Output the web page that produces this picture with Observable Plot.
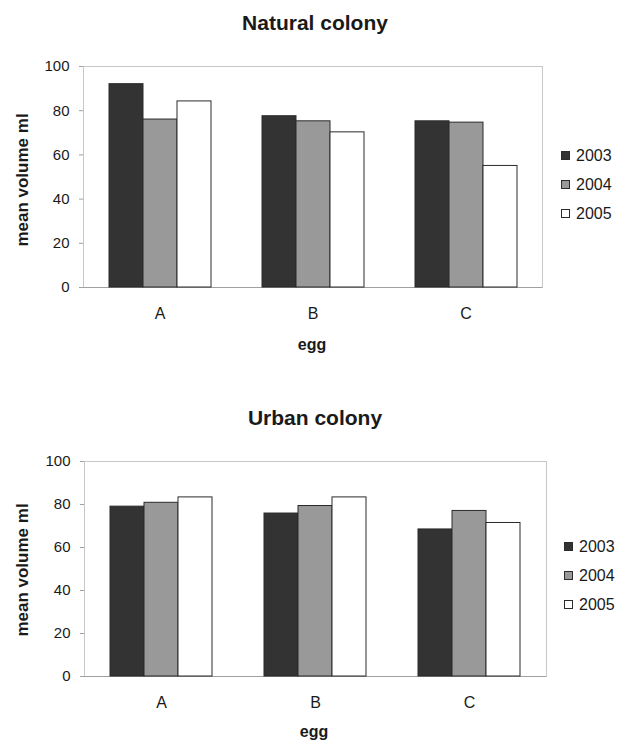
<!DOCTYPE html>
<html>
<head>
<meta charset="utf-8">
<script src="https://cdn.jsdelivr.net/npm/d3@7"></script>
<script src="https://cdn.jsdelivr.net/npm/@observablehq/plot@0.6"></script>
<style>
  html, body { margin: 0; padding: 0; background: #fff; }
  body { width: 630px; height: 744px; position: relative; overflow: hidden; font-family: "Liberation Sans", Arial, sans-serif; color: #1a1a1a; }
  .panel { position: absolute; left: 0; width: 630px; }
  .panel svg { display: block; }
  .title { position: absolute; left: 0; width: 630px; text-align: center; font-weight: bold; font-size: 21px; line-height: 21px; }
  .xlab { position: absolute; text-align: center; font-weight: bold; font-size: 16px; line-height: 16px; width: 200px; }
  .ylab { position: absolute; width: 200px; text-align: center; font-weight: bold; font-size: 17px; line-height: 17px; transform: translate(-50%, -50%) rotate(-90deg); }
  .legend { position: absolute; font-size: 16px; line-height: 16px; }
  .legend .row { display: flex; align-items: center; height: 29px; }
  .legend .sw { width: 7px; height: 7px; border: 1px solid #2b2b2b; margin-right: 6px; }
</style>
</head>
<body>
<script>
const eggs = ["A", "B", "C"];
const years = ["2003", "2004", "2005"];
const naturalTitle = "Natural colony";
const urbanTitle = "Urban colony";
const natural2003 = [92, 77.5, 75.2];
const natural2004 = [76, 75.2, 74.6];
const natural2005 = [84.2, 70.2, 55];
const urban2003 = [79, 75.8, 68.4];
const urban2004 = [80.8, 79.3, 77];
const urban2005 = [83.3, 83.3, 71.4];
const yTicks = [0, 20, 40, 60, 80, 100];
const yLabel = "mean volume ml";
const xLabel = "egg";
const yearColors = ["#333333", "#999999", "#ffffff"];

function rows(s03, s04, s05) {
  const out = [];
  eggs.forEach((e, i) => {
    out.push({egg: e, year: "2003", value: s03[i]});
    out.push({egg: e, year: "2004", value: s04[i]});
    out.push({egg: e, year: "2005", value: s05[i]});
  });
  return out;
}

function chart(data, opts) {
  return Plot.plot({
    width: 630,
    height: opts.height,
    marginLeft: 83,
    marginRight: opts.marginRight,
    marginTop: opts.marginTop,
    marginBottom: opts.marginBottom,
    style: {fontFamily: "Liberation Sans, Arial, sans-serif", fontSize: "15px", color: "#1a1a1a", background: "#fff"},
    fx: {domain: eggs, padding: 0, label: null},
    x: {domain: years, paddingInner: 0, paddingOuter: 0.75, axis: null},
    y: {domain: [0, 100], axis: null},
    color: {domain: years, range: yearColors},
    marks: [
      Plot.frame({facet: "super", stroke: "#c8c8c8"}),
      Plot.ruleY([0], {stroke: "#a0a0a0"}),
      Plot.barY(data, {fx: "egg", x: "year", y: "value", fill: "year", stroke: "#2b2b2b", strokeWidth: 1}),
      Plot.axisY({ticks: yTicks, tickSize: 4, tickPadding: 10, stroke: "#a0a0a0", fill: "#1a1a1a", fontSize: 15, label: null}),
      Plot.axisFx({anchor: "bottom", tickSize: 0, tickPadding: 20, fontSize: 16, label: null, fill: "#1a1a1a"})
    ]
  });
}

function legend(top, left) {
  const div = document.createElement("div");
  div.className = "legend";
  div.style.top = top + "px";
  div.style.left = left + "px";
  years.forEach((y, i) => {
    const r = document.createElement("div");
    r.className = "row";
    const sw = document.createElement("span");
    sw.className = "sw";
    sw.style.background = yearColors[i];
    const t = document.createElement("span");
    t.textContent = y;
    r.appendChild(sw); r.appendChild(t);
    div.appendChild(r);
  });
  document.body.appendChild(div);
}

function addText(cls, text, style) {
  const d = document.createElement("div");
  d.className = cls;
  d.textContent = text;
  Object.assign(d.style, style);
  document.body.appendChild(d);
}

// Panel 1
const p1 = document.createElement("div");
p1.className = "panel"; p1.style.top = "0px";
p1.appendChild(chart(rows(natural2003, natural2004, natural2005), {height: 370, marginTop: 66, marginBottom: 83, marginRight: 88}));
document.body.appendChild(p1);

// Panel 2
const p2 = document.createElement("div");
p2.className = "panel"; p2.style.top = "370px";
p2.appendChild(chart(rows(urban2003, urban2004, urban2005), {height: 374, marginTop: 91, marginBottom: 68, marginRight: 84}));
document.body.appendChild(p2);

addText("title", naturalTitle, {top: "12px"});
addText("title", urbanTitle, {top: "407px"});
addText("xlab", xLabel, {top: "337px", left: "212px"});
addText("xlab", xLabel, {top: "724px", left: "214px"});
addText("ylab", yLabel, {top: "180px", left: "22px"});
addText("ylab", yLabel, {top: "570px", left: "22px"});
legend(141, 561);
legend(532, 564);
</script>
</body>
</html>
